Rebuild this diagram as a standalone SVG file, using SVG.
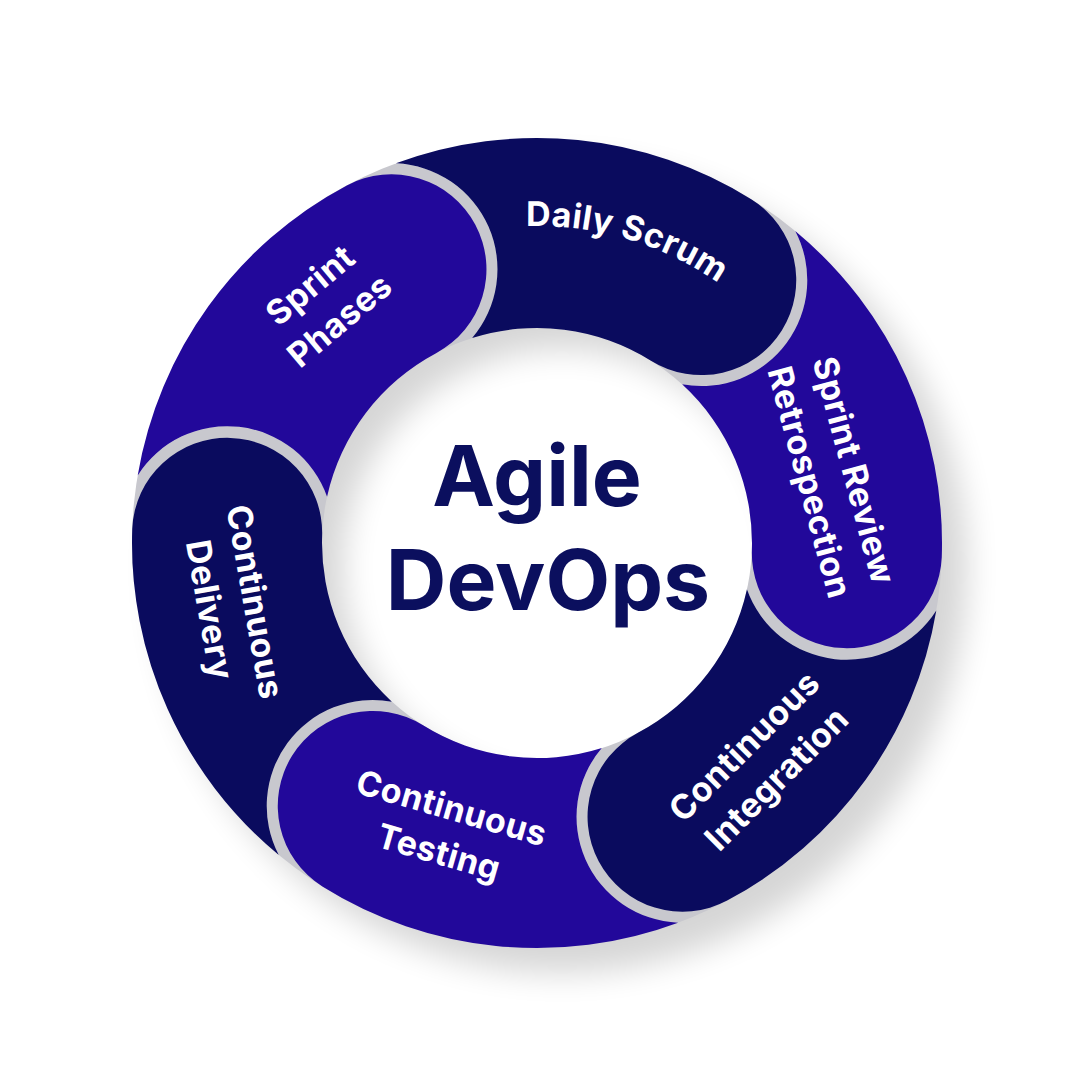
<svg xmlns="http://www.w3.org/2000/svg" width="1080" height="1080" viewBox="0 0 1080 1080">
<style>
.dark{fill:#0a0b5e}
.light{fill:#22089a}
.lbl{font-family:Inter,"Liberation Sans",sans-serif;font-weight:700;font-size:34px;fill:#ffffff;text-anchor:middle;letter-spacing:0.4px}
.title{font-family:Inter,"Liberation Sans",sans-serif;font-weight:700;font-size:84px;fill:#0b0f5e;text-anchor:middle}
</style>
<defs>
<filter id="blur" x="-20%" y="-20%" width="140%" height="140%"><feGaussianBlur stdDeviation="16"/></filter>
<clipPath id="ring"><path clip-rule="evenodd" d="M132,543 A405,405 0 1 0 942,543 A405,405 0 1 0 132,543 Z M322,543 A215,215 0 1 1 752,543 A215,215 0 1 1 322,543 Z"/></clipPath>
<path id="pDS" d="M282.18,354.44 A317,317 0 0 1 853.41,523.65"/>
</defs>
<rect width="1080" height="1080" fill="#ffffff"/>
<circle cx="562" cy="568" r="312" fill="none" stroke="#000" stroke-width="186" opacity="0.16" filter="url(#blur)"/>
<g id="halos" clip-path="url(#ring)" fill="#c8c8ce">
<circle cx="391.46" cy="269.29" r="106"/>
<circle cx="701.28" cy="280.10" r="106"/>
<circle cx="846.81" cy="553.82" r="106"/>
<circle cx="682.54" cy="816.71" r="106"/>
<circle cx="372.72" cy="805.90" r="106"/>
<circle cx="227.19" cy="532.18" r="106"/>
</g>
<g id="sprint-phases">
<path class="light" d="M137.68,475.39 A405,405 0 0 1 346.86,185.41 A95,95 0 0 1 436.06,353.17 A215,215 0 0 0 327.06,496.65 A106,106 0 0 0 137.68,475.39 Z"/>
<text class="lbl" transform="translate(325.5,303.5) rotate(-40)"><tspan x="0" y="-12">Sprint</tspan><tspan x="0" y="34">Phases</tspan></text>
</g>
<g id="daily-scrum">
<path class="dark" d="M395.89,163.37 A405,405 0 0 1 751.62,199.54 A95,95 0 0 1 650.93,360.67 A215,215 0 0 0 472.17,338.00 A106,106 0 0 0 395.89,163.37 Z"/>
<text class="lbl"><textPath href="#pDS" startOffset="50%">Daily Scrum</textPath></text>
</g>
<g id="sprint-review">
<path class="light" d="M795.21,230.99 A405,405 0 0 1 941.75,557.13 A95,95 0 0 1 751.87,550.50 A215,215 0 0 0 682.12,384.35 A106,106 0 0 0 795.21,230.99 Z"/>
<text class="lbl" transform="translate(831,476.5) rotate(75)"><tspan x="0" y="-12">Sprint Review</tspan><tspan x="0" y="34">Retrospection</tspan></text>
</g>
<g id="continuous-integration">
<path class="dark" d="M936.32,610.61 A405,405 0 0 1 727.14,900.59 A95,95 0 0 1 637.94,732.83 A215,215 0 0 0 746.94,589.35 A106,106 0 0 0 936.32,610.61 Z"/>
<text class="lbl" transform="translate(761,763) rotate(-45)"><tspan x="0" y="-12">Continuous</tspan><tspan x="0" y="34">Integration</tspan></text>
</g>
<g id="continuous-testing">
<path class="light" d="M678.11,922.63 A405,405 0 0 1 322.38,886.46 A95,95 0 0 1 423.07,725.33 A215,215 0 0 0 601.83,748.00 A106,106 0 0 0 678.11,922.63 Z"/>
<text class="lbl" transform="translate(445,831) rotate(16)"><tspan x="0" y="-12">Continuous</tspan><tspan x="0" y="34">Testing</tspan></text>
</g>
<g id="continuous-delivery">
<path class="dark" d="M278.79,855.01 A405,405 0 0 1 132.25,528.87 A95,95 0 0 1 322.13,535.50 A215,215 0 0 0 391.88,701.65 A106,106 0 0 0 278.79,855.01 Z"/>
<text class="lbl" transform="translate(231.5,606) rotate(80)"><tspan x="0" y="-12">Continuous</tspan><tspan x="0" y="34">Delivery</tspan></text>
</g>
<g id="center">
<text class="title" x="537" y="506">Agile</text>
<text class="title" x="548" y="610">DevOps</text>
</g>
</svg>
